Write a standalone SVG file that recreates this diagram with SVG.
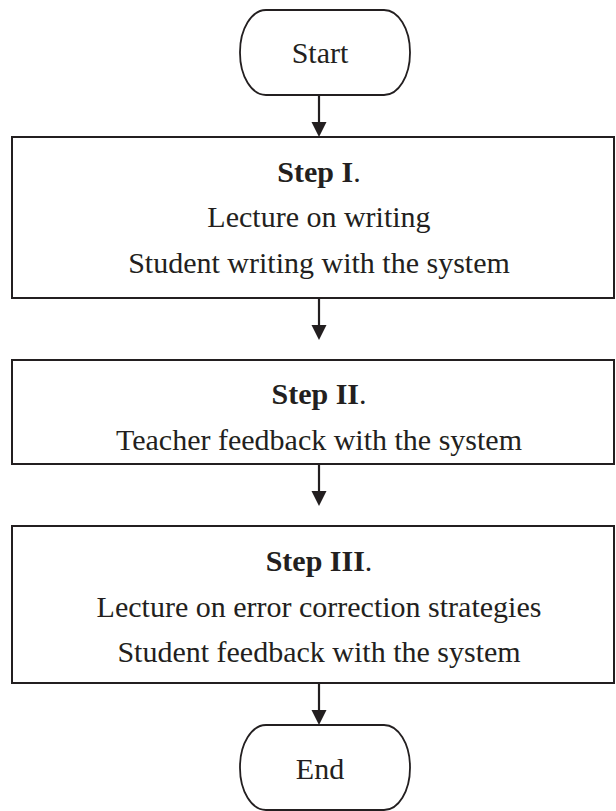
<svg xmlns="http://www.w3.org/2000/svg" width="616" height="811" viewBox="0 0 616 811">
  <defs>
    <style>
      .box { fill: #ffffff; stroke: #231f20; stroke-width: 2; }
      .term { fill: #ffffff; stroke: #231f20; stroke-width: 1.8; }
      .t { font-family: "Liberation Serif", "Times New Roman", serif; font-size: 30px; fill: #231f20; text-anchor: middle; }
      .b { font-weight: bold; }
      .conn { stroke: #231f20; stroke-width: 2.2; fill: none; }
      .head { fill: #231f20; }
    </style>
  </defs>
  <rect width="616" height="811" fill="#ffffff"/>

  <g id="start">
    <rect class="term" x="240" y="10" width="170" height="85" rx="26" ry="42"/>
    <text class="t" x="320" y="63">Start</text>
  </g>

  <g id="step1">
    <rect class="box" x="12" y="137" width="602" height="161"/>
    <text class="t" x="319" y="182"><tspan class="b">Step I</tspan>.</text>
    <text class="t" x="319" y="227">Lecture on writing</text>
    <text class="t" x="319" y="273">Student writing with the system</text>
  </g>

  <g id="step2">
    <rect class="box" x="12" y="360" width="602" height="104"/>
    <text class="t" x="319" y="404"><tspan class="b">Step II</tspan>.</text>
    <text class="t" x="319" y="450">Teacher feedback with the system</text>
  </g>

  <g id="step3">
    <rect class="box" x="12" y="526" width="602" height="157"/>
    <text class="t" x="319" y="571"><tspan class="b">Step III</tspan>.</text>
    <text class="t" x="319" y="617">Lecture on error correction strategies</text>
    <text class="t" x="319" y="662">Student feedback with the system</text>
  </g>

  <g id="end">
    <rect class="term" x="240" y="725" width="170" height="85" rx="26" ry="42"/>
    <text class="t" x="320" y="779">End</text>
  </g>

  <g id="connectors">
    <line class="conn" x1="319" y1="95" x2="319" y2="124"/>
    <polygon class="head" points="311.5,122 326.5,122 319,137"/>
    <line class="conn" x1="319" y1="298" x2="319" y2="327"/>
    <polygon class="head" points="311.5,325 326.5,325 319,340"/>
    <line class="conn" x1="319" y1="464" x2="319" y2="493"/>
    <polygon class="head" points="311.5,491 326.5,491 319,506"/>
    <line class="conn" x1="319" y1="683" x2="319" y2="712"/>
    <polygon class="head" points="311.5,710 326.5,710 319,725"/>
  </g>
</svg>
